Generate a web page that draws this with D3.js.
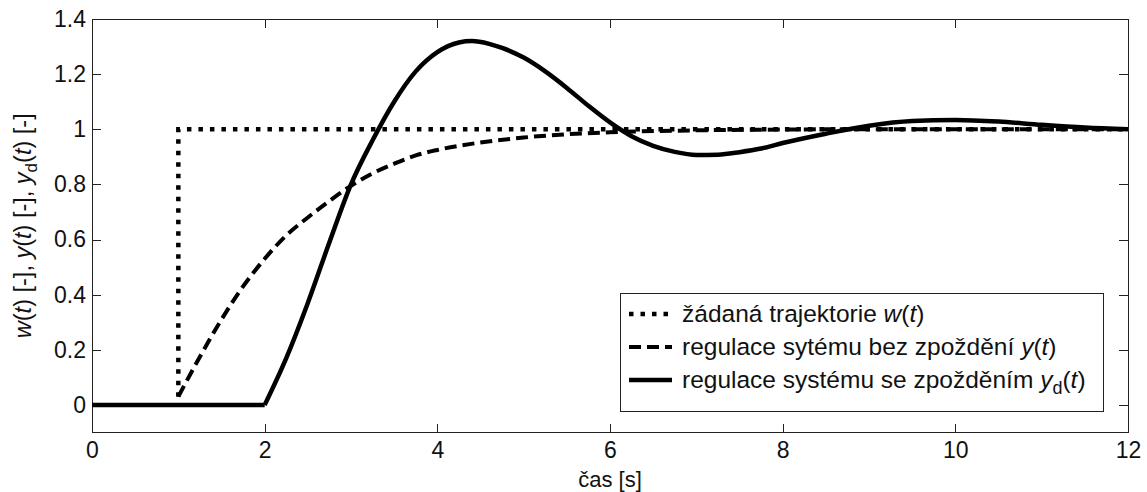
<!DOCTYPE html>
<html>
<head>
<meta charset="utf-8">
<script src="https://cdn.jsdelivr.net/npm/d3@7"></script>
<style>
  body { margin: 0; background: #fff; }
  svg { display: block; font-family: "Liberation Sans", Arial, sans-serif; }
  .axis text { font-size: 23px; fill: #111; }
  .axis path, .axis line { stroke: #222; stroke-width: 1; shape-rendering: crispEdges; }
</style>
</head>
<body>
<svg width="1147" height="492"></svg>
<script>
// reference trajectory w(t): step at t = 1
const wTime = [1, 1, 12];
const wValue = [0.03, 1, 1];

// system without delay y(t)
const yTime = [1, 1.25, 1.5, 1.75, 2, 2.25, 2.5, 2.75, 3, 3.25, 3.5, 3.75, 4, 4.5, 5, 5.5, 6, 7, 8, 9, 10, 12];
const yValue = [0.03, 0.175, 0.31, 0.43, 0.53, 0.615, 0.68, 0.74, 0.795, 0.84, 0.875, 0.905, 0.925, 0.952, 0.97, 0.982, 0.989, 0.996, 0.999, 1, 1, 1];

// system with delay y_d(t)
const ydTime = [0, 2, 2.25, 2.5, 2.75, 3, 3.25, 3.5, 3.75, 4, 4.25, 4.4, 4.6, 4.75, 5, 5.25, 5.5, 5.75, 6,
  6.25, 6.5, 6.75, 7, 7.25, 7.5, 7.75, 8, 8.5, 9, 9.5, 10, 10.5, 11, 11.5, 12];
const ydValue = [0, 0, 0.17, 0.37, 0.59, 0.80, 0.96, 1.10, 1.21, 1.28, 1.315, 1.32, 1.31, 1.295, 1.26, 1.21, 1.15, 1.085, 1.025,
  0.975, 0.94, 0.918, 0.907, 0.908, 0.917, 0.93, 0.95, 0.984, 1.013, 1.03, 1.034, 1.028, 1.016, 1.006, 1.0];

const xTicks = [0, 2, 4, 6, 8, 10, 12];
const yTicks = [0, 0.2, 0.4, 0.6, 0.8, 1, 1.2, 1.4];

const svg = d3.select('svg');
const margin = {top: 19, right: 19, bottom: 60, left: 92};
const width = +svg.attr('width') - margin.left - margin.right;
const height = 432.5 - margin.top;
const g = svg.append('g').attr('transform', `translate(${margin.left},${margin.top})`);

const x = d3.scaleLinear().domain([0, 12]).range([0, width]);
const y = d3.scaleLinear().domain([-0.1, 1.4]).range([height, 0]);

const zip = (ts, vs) => ts.map((t, i) => ({t, v: vs[i]}));
const line = d3.line().x(d => x(d.t)).y(d => y(d.v));
const smooth = d3.line().x(d => x(d.t)).y(d => y(d.v)).curve(d3.curveMonotoneX);

// Box + axes (ticks inward, mirrored on top / right)
g.append('rect').attr('width', width).attr('height', height)
  .attr('fill', 'none').attr('stroke', '#222').attr('shape-rendering', 'crispEdges');

const fmt = d => d3.format('~g')(d);
g.append('g').attr('class', 'axis').attr('transform', `translate(0,${height})`)
  .call(d3.axisBottom(x).tickValues(xTicks).tickFormat(fmt).tickSizeInner(-9).tickSizeOuter(0).tickPadding(9))
  .call(s => s.select('.domain').remove());
g.append('g').attr('class', 'axis')
  .call(d3.axisTop(x).tickValues(xTicks).tickFormat('').tickSizeInner(-9).tickSizeOuter(0))
  .call(s => s.select('.domain').remove());
g.append('g').attr('class', 'axis')
  .call(d3.axisLeft(y).tickValues(yTicks).tickFormat(fmt).tickSizeInner(-9).tickSizeOuter(0).tickPadding(6))
  .call(s => s.select('.domain').remove());
g.append('g').attr('class', 'axis').attr('transform', `translate(${width},0)`)
  .call(d3.axisRight(y).tickValues(yTicks).tickFormat('').tickSizeInner(-9).tickSizeOuter(0))
  .call(s => s.select('.domain').remove());

// Curves
g.append('path').datum(zip(wTime, wValue))
  .attr('d', line).attr('fill', 'none').attr('stroke', '#000')
  .attr('stroke-width', 4.5).attr('stroke-dasharray', '4.5,7');

g.append('path').datum(zip(yTime, yValue))
  .attr('d', smooth).attr('fill', 'none').attr('stroke', '#000')
  .attr('stroke-width', 4).attr('stroke-dasharray', '12,6');

const ydData = zip(ydTime, ydValue);
g.append('path').datum(ydData.filter(d => d.t <= 2))
  .attr('d', line).attr('fill', 'none').attr('stroke', '#000').attr('stroke-width', 4.5);
g.append('path').datum(ydData.filter(d => d.t >= 2))
  .attr('d', smooth).attr('fill', 'none').attr('stroke', '#000').attr('stroke-width', 4.5)
  .attr('stroke-linejoin', 'round');

// Axis labels
svg.append('text').attr('x', margin.left + width / 2).attr('y', 487)
  .attr('text-anchor', 'middle').style('font-size', '22px').attr('fill', '#111').text('čas [s]');

const yl = svg.append('text')
  .attr('transform', `translate(31,${margin.top + height / 2}) rotate(-90)`)
  .attr('text-anchor', 'middle').style('font-size', '23.5px').attr('fill', '#111');
yl.append('tspan').style('font-style', 'italic').text('w');
yl.append('tspan').text('(');
yl.append('tspan').style('font-style', 'italic').text('t');
yl.append('tspan').text(') [-], ');
yl.append('tspan').style('font-style', 'italic').text('y');
yl.append('tspan').text('(');
yl.append('tspan').style('font-style', 'italic').text('t');
yl.append('tspan').text(') [-], ');
yl.append('tspan').style('font-style', 'italic').text('y');
yl.append('tspan').attr('dy', 6).style('font-size', '17px').text('d');
yl.append('tspan').attr('dy', -6).text('(');
yl.append('tspan').style('font-style', 'italic').text('t');
yl.append('tspan').text(') [-]');

// Legend
const legend = svg.append('g').attr('transform', 'translate(620,293)');
legend.append('rect').attr('width', 483).attr('height', 118)
  .attr('fill', '#fff').attr('stroke', '#222').attr('shape-rendering', 'crispEdges');

const items = [
  {dash: '4.5,7', w: 4.5, parts: [['žádaná trajektorie ', false], ['w', true], ['(', false], ['t', true], [')', false]]},
  {dash: '12,6', w: 4, parts: [['regulace sytému bez zpoždění ', false], ['y', true], ['(', false], ['t', true], [')', false]]},
  {dash: null, w: 4.5, parts: [['regulace systému se zpožděním ', false], ['y', true], ['d', false, true], ['(', false], ['t', true], [')', false]]}
];
items.forEach((it, i) => {
  const cy = 21 + i * 33;
  legend.append('line').attr('x1', 9).attr('x2', 52).attr('y1', cy).attr('y2', cy)
    .attr('stroke', '#000').attr('stroke-width', it.w).attr('stroke-dasharray', it.dash);
  const t = legend.append('text').attr('x', 62).attr('y', cy + 8).style('font-size', '24.5px').attr('fill', '#111');
  let sub = false;
  it.parts.forEach(([s, ital, isSub]) => {
    const ts = t.append('tspan').text(s);
    if (ital) ts.style('font-style', 'italic');
    if (isSub) { ts.attr('dy', 6).style('font-size', '18px'); sub = true; }
    else if (sub) { ts.attr('dy', -6); sub = false; }
  });
});
</script>
</body>
</html>
